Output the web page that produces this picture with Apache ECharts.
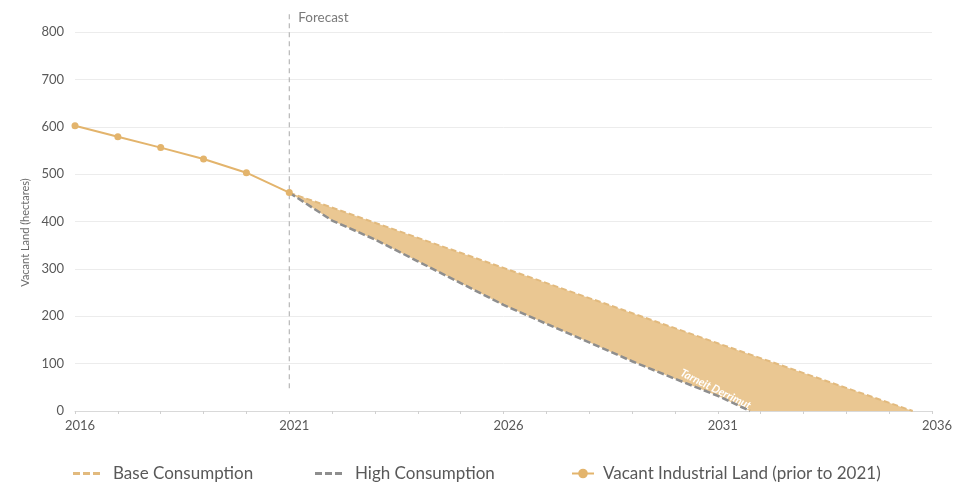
<!DOCTYPE html>
<html>
<head>
<meta charset="utf-8">
<script src="https://cdn.jsdelivr.net/npm/echarts@6/dist/echarts.min.js"></script>
<style>
  html, body { margin: 0; padding: 0; background: #ffffff; }
  #chart { width: 968px; height: 485px; }
</style>
</head>
<body>
<div id="chart"></div>
<script>
// Vacant industrial land: observed to 2021, then two consumption forecasts
const histYears  = [2016, 2017, 2018, 2019, 2020, 2021];
const histValues = [602, 579, 556, 532, 503, 461];

const baseYears  = [2021, 2026, 2031, 2035.55];
const baseValues = [461, 302, 143, 0];

const highYears  = [2021, 2022, 2023, 2024, 2025, 2026, 2027, 2028, 2029, 2030, 2031, 2031.75];
const highValues = [461, 402, 362, 316, 270, 224, 184, 145, 105, 68, 32, 0];

const forecastYear = 2021;
const forecastLabel = 'Forecast';
const areaLabel = 'Tarneit Derrimut';
const areaLabelAt = [2030.95, 46];

const yTicks = [0, 100, 200, 300, 400, 500, 600, 700, 800];
const xTicks = [2016, 2021, 2026, 2031, 2036];

const pairs = (xs, ys) => xs.map((x, i) => [x, ys[i]]);

const FONT = 'Lato, "Noto Sans", sans-serif';
const GOLD = '#E3B46C';
const BAND = '#EAC792';
const BASE_LINE = '#E2BA7E';
const HIGH_LINE = '#8E8E8E';

// three short dashes, used as the legend key for the forecast lines
const DASH_ICON = 'path://M0,0h7v3h-7z M10,0h7v3h-7z M20,0h7v3h-7z';

const legendText = { color: '#595959', fontSize: 17, fontFamily: FONT };

const chart = echarts.init(document.getElementById('chart'), null, { renderer: 'canvas' });

chart.setOption({
  animation: false,
  backgroundColor: '#ffffff',
  textStyle: { fontFamily: FONT },
  grid: { left: 75, right: 36, top: 32, bottom: 74, containLabel: false },
  xAxis: {
    type: 'value',
    min: xTicks[0],
    max: xTicks[xTicks.length - 1],
    interval: 5,
    axisLine: { show: true, lineStyle: { color: '#d9d9d9', width: 1 } },
    axisTick: { show: true, length: 3, lineStyle: { color: '#d0d0d0' } },
    minorTick: { show: true, splitNumber: 5, length: 3, lineStyle: { color: '#d0d0d0' } },
    splitLine: { show: false },
    axisLabel: {
      color: '#595959', fontSize: 13, fontFamily: FONT, margin: 8,
      padding: [0, 0, 0, 10],
      formatter: v => String(v)
    }
  },
  yAxis: {
    type: 'value',
    min: yTicks[0],
    max: yTicks[yTicks.length - 1],
    interval: 100,
    name: 'Vacant Land (hectares)',
    nameLocation: 'middle',
    nameGap: 44,
    nameRotate: 90,
    nameTextStyle: { color: '#6a6a6a', fontSize: 11, fontFamily: FONT, padding: [0, 22, 0, 0] },
    axisLine: { show: false },
    axisTick: { show: false },
    splitLine: { lineStyle: { color: '#ececec', width: 1 } },
    axisLabel: { color: '#595959', fontSize: 13, fontFamily: FONT, margin: 11 }
  },
  legend: [
    {
      left: 68, top: 460, itemWidth: 27, itemHeight: 3, itemGap: 0,
      data: [{ name: 'Base Consumption', icon: DASH_ICON }],
      textStyle: Object.assign({ padding: [0, 0, 0, 8] }, legendText)
    },
    {
      left: 310, top: 460, itemWidth: 27, itemHeight: 3, itemGap: 0,
      data: [{ name: 'High Consumption', icon: DASH_ICON }],
      textStyle: Object.assign({ padding: [0, 0, 0, 8] }, legendText)
    },
    {
      left: 566, top: 460, itemWidth: 22, itemHeight: 12, itemGap: 0,
      data: ['Vacant Industrial Land (prior to 2021)'],
      textStyle: Object.assign({ padding: [0, 0, 0, 4] }, legendText)
    }
  ],
  series: [
    {
      // shaded band between the base and high consumption forecasts
      type: 'custom',
      name: 'band',
      silent: true,
      z: 1,
      data: [[forecastYear, 0]],
      renderItem: (params, api) => {
        const pts = baseYears.map((x, i) => api.coord([x, baseValues[i]]));
        for (let i = highYears.length - 1; i >= 0; i--) {
          pts.push(api.coord([highYears[i], highValues[i]]));
        }
        const at = api.coord(areaLabelAt);
        return {
          type: 'group',
          children: [
            { type: 'polygon', shape: { points: pts }, style: { fill: BAND } },
            {
              type: 'text',
              x: at[0], y: at[1],
              rotation: -0.46,
              z2: 10,
              style: {
                text: areaLabel,
                fill: '#ffffff',
                font: 'italic bold 11px ' + FONT,
                align: 'center',
                verticalAlign: 'middle'
              }
            }
          ]
        };
      }
    },
    {
      name: 'Base Consumption',
      type: 'line',
      z: 3,
      data: pairs(baseYears, baseValues),
      showSymbol: false,
      symbol: 'none',
      itemStyle: { color: BASE_LINE },
      lineStyle: { color: BASE_LINE, width: 2, type: [6, 3] }
    },
    {
      name: 'High Consumption',
      type: 'line',
      z: 3,
      data: pairs(highYears, highValues),
      showSymbol: false,
      symbol: 'none',
      itemStyle: { color: HIGH_LINE },
      lineStyle: { color: HIGH_LINE, width: 2.5, type: [7, 3] }
    },
    {
      name: 'Vacant Industrial Land (prior to 2021)',
      type: 'line',
      z: 4,
      data: pairs(histYears, histValues),
      symbol: 'circle',
      symbolSize: 7,
      itemStyle: { color: GOLD },
      lineStyle: { color: GOLD, width: 2 }
    },
    {
      // vertical divider marking the start of the forecast period
      type: 'custom',
      name: 'forecast',
      silent: true,
      z: 2,
      clip: false,
      data: [[forecastYear, 0]],
      renderItem: (params, api) => {
        const bottom = api.coord([forecastYear, 48]);
        const top = api.coord([forecastYear, 846]);
        return {
          type: 'group',
          children: [
            {
              type: 'line',
              shape: { x1: bottom[0], y1: bottom[1], x2: top[0], y2: top[1] },
              style: { stroke: '#a8a8a8', lineWidth: 1, lineDash: [5, 4] }
            },
            {
              type: 'text',
              x: top[0] + 9, y: top[1] + 7,
              style: {
                text: forecastLabel,
                fill: '#7a7a7a',
                font: '13.5px ' + FONT,
                align: 'left',
                verticalAlign: 'middle'
              }
            }
          ]
        };
      }
    }
  ]
});
</script>
</body>
</html>
